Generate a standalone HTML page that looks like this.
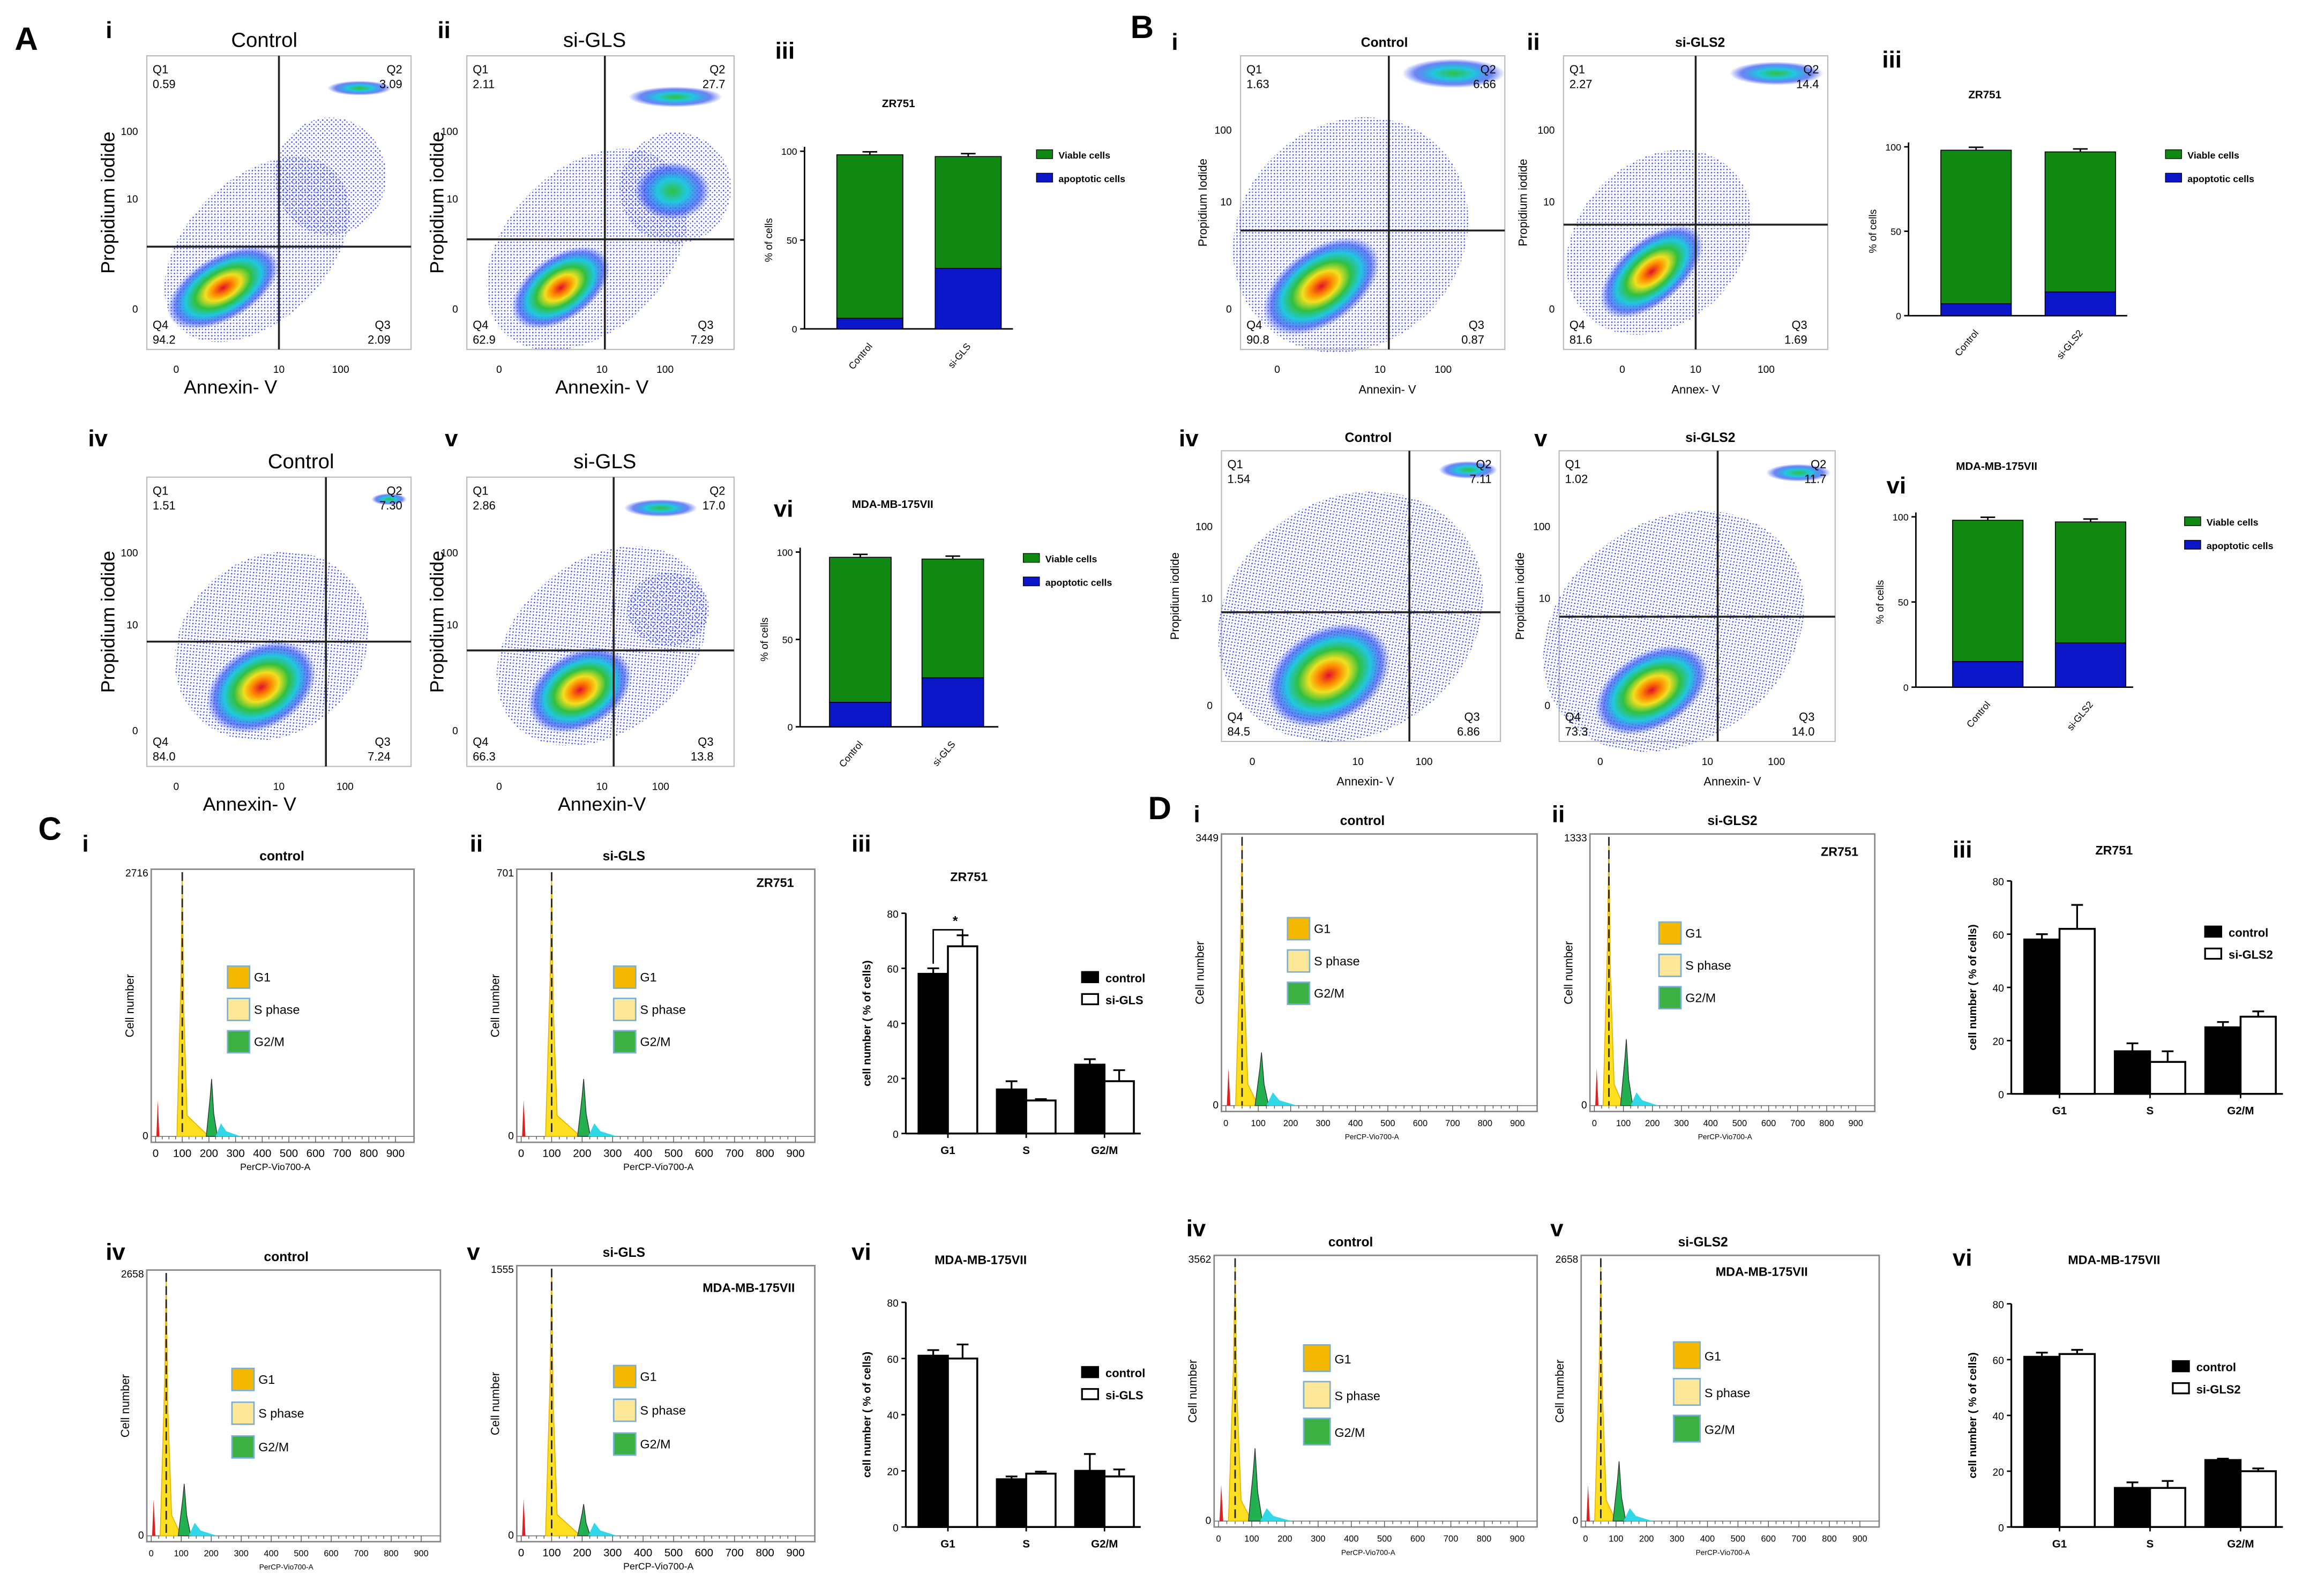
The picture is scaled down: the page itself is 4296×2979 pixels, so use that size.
<!DOCTYPE html>
<html><head><meta charset="utf-8"><style>
html,body{margin:0;padding:0;background:#fff;}
svg{display:block;font-family:"Liberation Sans",sans-serif;}
</style></head><body>
<svg id="fig" width="4296" height="2979" viewBox="0 0 1568 1087" preserveAspectRatio="none" xmlns="http://www.w3.org/2000/svg">
<defs>
<pattern id="dots" width="3" height="3" patternUnits="userSpaceOnUse"><circle cx="0.8" cy="0.8" r="0.5" fill="#2233ee"/><circle cx="2.3" cy="2.1" r="0.45" fill="#4455ff"/></pattern>
<radialGradient id="heat"><stop offset="0" stop-color="#e0102a"/><stop offset="0.18" stop-color="#ff8a00"/><stop offset="0.32" stop-color="#f0e020"/><stop offset="0.5" stop-color="#30c040"/><stop offset="0.68" stop-color="#20c8e0"/><stop offset="0.85" stop-color="#3050f0" stop-opacity="0.7"/><stop offset="1" stop-color="#3050f0" stop-opacity="0"/></radialGradient>
<radialGradient id="heat2"><stop offset="0" stop-color="#30c040"/><stop offset="0.4" stop-color="#20c8e0"/><stop offset="0.75" stop-color="#3050f0" stop-opacity="0.7"/><stop offset="1" stop-color="#3050f0" stop-opacity="0"/></radialGradient>
</defs>
</svg>
<script>
// ---------- data ----------
const stackCats = ["Control","si-GLS"];
const stackA3Apop = [6, 34];
const stackA3Total = [98, 97];
const stackA6Apop = [14, 28];
const stackA6Total = [97, 96];
const stackB3Apop = [7, 14];
const stackB3Total = [98, 97];
const stackB6Apop = [15, 26];
const stackB6Total = [98, 97];
const stackTicks = [0, 50, 100];
const phaseCats = ["G1","S","G2/M"];
const c3Control = [58, 16, 25];
const c3Si = [68, 12, 19];
const c3ControlErr = [2, 3, 2];
const c3SiErr = [4, 0.5, 4];
const c6Control = [61, 17, 20];
const c6Si = [60, 19, 18];
const c6ControlErr = [2, 1, 6];
const c6SiErr = [5, 0.7, 2.5];
const d3Control = [58, 16, 25];
const d3Si = [62, 12, 29];
const d3ControlErr = [2, 3, 2];
const d3SiErr = [9, 4, 2];
const d6Control = [61, 14, 24];
const d6Si = [62, 14, 20];
const d6ControlErr = [1.5, 2, 0.5];
const d6SiErr = [1.5, 2.5, 1];
const phaseTicks = [0, 20, 40, 60, 80];
const histTicks = [0,100,200,300,400,500,600,700,800,900];

const svg = document.getElementById('fig');
const NS = 'http://www.w3.org/2000/svg';
function mk(tag, attrs, name, parent, inter) {
  const el = document.createElementNS(NS, tag);
  for (const k in attrs) el.setAttribute(k, attrs[k]);
  
  
  (parent || svg).appendChild(el);
  return el;
}
function txt(x, y, s, size, name, opts) {
  opts = opts || {};
  const a = {x: x, y: y, 'font-size': size, fill: '#000', 'text-anchor': opts.anchor || 'middle'};
  if (opts.bold) a['font-weight'] = 'bold';
  if (opts.rot) a.transform = 'rotate(' + opts.rot + ' ' + x + ' ' + y + ')';
  const t = mk('text', a, name, opts.parent);
  t.textContent = s;
  return t;
}

// ---------- panel letters & numerals ----------
[["A",10,34],["B",770,26],["C",26,572],["D",782,558]].forEach(l => txt(l[1], l[2], l[0], 22, 'panel-letter-' + l[0].toLowerCase(), {bold: true, anchor: 'start'}));
[["i",72,26],["ii",298,26],["iii",528,40],["iv",60,304],["v",303,304],["vi",527,352],
 ["i",798,34],["ii",1040,34],["iii",1282,46],["iv",803,304],["v",1045,304],["vi",1285,336],
 ["i",56,580],["ii",320,580],["iii",580,580],["iv",72,858],["v",318,858],["vi",580,858],
 ["i",813,560],["ii",1057,560],["iii",1330,584],["iv",808,842],["v",1056,842],["vi",1330,862]
].forEach((r, i) => txt(r[1], r[2], r[0], 16, 'subpanel-numeral-' + r[0], {bold: true, anchor: 'start'}));

// ---------- scatter (Annexin/PI) plots ----------
function scatter(p) {
  const g = mk('g', {}, 'dotplot-' + p.id);
  mk('rect', {x: p.x, y: p.y, width: p.w, height: p.h, fill: '#fff', stroke: '#bbb', 'stroke-width': 0.8}, 'plot-frame', g);
  p.blobs.forEach(b => {
    const fill = b[5] === 'd' ? 'url(#dots)' : (b[5] === 'h' ? 'url(#heat)' : 'url(#heat2)');
    mk('ellipse', {cx: b[0], cy: b[1], rx: b[2], ry: b[3], transform: 'rotate(' + b[4] + ' ' + b[0] + ' ' + b[1] + ')', fill: fill, opacity: b[5] === 'd' ? 0.9 : 1}, 'cell-population', g);
  });
  mk('line', {x1: p.qx, y1: p.y, x2: p.qx, y2: p.y + p.h, stroke: '#222', 'stroke-width': 1.3}, 'quadrant-vertical-gate', g);
  mk('line', {x1: p.x, y1: p.qy, x2: p.x + p.w, y2: p.qy, stroke: '#222', 'stroke-width': 1.3}, 'quadrant-horizontal-gate', g);
  const fs = 8;
  txt(p.x + 4, p.y + 12, 'Q1', fs, 'q1-label', {anchor: 'start', parent: g});
  txt(p.x + 4, p.y + 22, p.q[0], fs, 'q1-value', {anchor: 'start', parent: g});
  txt(p.x + p.w - 6, p.y + 12, 'Q2', fs, 'q2-label', {anchor: 'end', parent: g});
  txt(p.x + p.w - 6, p.y + 22, p.q[1], fs, 'q2-value', {anchor: 'end', parent: g});
  txt(p.x + 4, p.y + p.h - 14, 'Q4', fs, 'q4-label', {anchor: 'start', parent: g});
  txt(p.x + 4, p.y + p.h - 4, p.q[2], fs, 'q4-value', {anchor: 'start', parent: g});
  txt(p.x + p.w - 14, p.y + p.h - 14, 'Q3', fs, 'q3-label', {anchor: 'end', parent: g});
  txt(p.x + p.w - 14, p.y + p.h - 4, p.q[3], fs, 'q3-value', {anchor: 'end', parent: g});
  txt(p.tx, p.y - 6, p.title, p.tsize, 'plot-title', {bold: p.tsize < 12, parent: g});
  p.yt.forEach((t, i) => txt(p.x - 6, t[1], t[0], 7, 'y-tick-label', {anchor: 'end', parent: g}));
  p.xt.forEach(t => txt(t[1], p.y + p.h + 16, t[0], 7, 'x-tick-label', {parent: g}));
  txt(p.ylx, p.y + p.h / 2, p.ylab, p.lsize, 'y-axis-title', {rot: -90, parent: g});
  txt(p.xlx, p.y + p.h + 30, p.xlab, p.lsize, 'x-axis-title', {parent: g});
}
const big = 14, sm = 9;
scatter({id:'a-i', x:100, y:38, w:180, h:200, qx:190, qy:168, q:['0.59','3.09','94.2','2.09'], title:'Control', tx:180, tsize:big,
  yt:[['100',92],['10',138],['0',213]], xt:[['0',120],['10',190],['100',232]], ylx:78, ylab:'Propidium iodide', xlx:157, xlab:'Annexin- V', lsize:13,
  blobs:[[175,170,75,48,-45,'d'],[225,120,38,40,0,'d'],[152,196,42,22,-30,'h'],[245,60,22,5,0,'g']]});
scatter({id:'a-ii', x:318, y:38, w:182, h:200, qx:412, qy:163, q:['2.11','27.7','62.9','7.29'], title:'si-GLS', tx:405, tsize:big,
  yt:[['100',92],['10',138],['0',213]], xt:[['0',340],['10',410],['100',453]], ylx:302, ylab:'Propidium iodide', xlx:410, xlab:'Annexin- V', lsize:13,
  blobs:[[400,170,80,55,-45,'d'],[460,128,38,38,0,'d'],[458,130,26,20,0,'g'],[382,196,38,22,-35,'h'],[460,66,32,7,0,'g']]});
scatter({id:'a-iv', x:100, y:325, w:180, h:197, qx:222, qy:437, q:['1.51','7.30','84.0','7.24'], title:'Control', tx:205, tsize:big,
  yt:[['100',379],['10',428],['0',500]], xt:[['0',120],['10',190],['100',235]], ylx:78, ylab:'Propidium iodide', xlx:170, xlab:'Annexin- V', lsize:13,
  blobs:[[185,440,70,60,-40,'d'],[178,468,40,28,-30,'h'],[265,340,12,4,0,'g']]});
scatter({id:'a-v', x:318, y:325, w:182, h:197, qx:418, qy:443, q:['2.86','17.0','66.3','13.8'], title:'si-GLS', tx:412, tsize:big,
  yt:[['100',379],['10',428],['0',500]], xt:[['0',340],['10',410],['100',450]], ylx:302, ylab:'Propidium iodide', xlx:410, xlab:'Annexin-V', lsize:13,
  blobs:[[410,440,80,58,-40,'d'],[455,415,28,25,0,'d'],[395,470,38,26,-30,'h'],[450,346,25,6,0,'g']]});
scatter({id:'b-i', x:845, y:38, w:180, h:200, qx:946, qy:157, q:['1.63','6.66','90.8','0.87'], title:'Control', tx:943, tsize:sm,
  yt:[['100',91],['10',140],['0',213]], xt:[['0',870],['10',940],['100',983]], ylx:822, ylab:'Propidium Iodide', xlx:945, xlab:'Annexin- V', lsize:8,
  blobs:[[920,160,85,75,-45,'d'],[900,195,45,26,-35,'h'],[990,50,35,10,0,'g']]});
scatter({id:'b-ii', x:1065, y:38, w:180, h:200, qx:1155, qy:153, q:['2.27','14.4','81.6','1.69'], title:'si-GLS2', tx:1158, tsize:sm,
  yt:[['100',91],['10',140],['0',213]], xt:[['0',1105],['10',1155],['100',1203]], ylx:1040, ylab:'Propidium iodide', xlx:1155, xlab:'Annex- V', lsize:8,
  blobs:[[1130,165,70,55,-45,'d'],[1125,185,42,22,-40,'h'],[1210,50,32,8,0,'g']]});
scatter({id:'b-iv', x:832, y:307, w:190, h:198, qx:960, qy:417, q:['1.54','7.11','84.5','6.86'], title:'Control', tx:932, tsize:sm,
  yt:[['100',361],['10',410],['0',483]], xt:[['0',853],['10',925],['100',970]], ylx:803, ylab:'Propidium iodide', xlx:930, xlab:'Annexin- V', lsize:8,
  blobs:[[920,420,95,80,-35,'d'],[905,460,45,32,-30,'h'],[1000,320,20,6,0,'g']]});
scatter({id:'b-v', x:1062, y:307, w:188, h:198, qx:1170, qy:420, q:['1.02','11.7','73.3','14.0'], title:'si-GLS2', tx:1165, tsize:sm,
  yt:[['100',361],['10',410],['0',483]], xt:[['0',1090],['10',1163],['100',1210]], ylx:1038, ylab:'Propidium iodide', xlx:1180, xlab:'Annexin- V', lsize:8,
  blobs:[[1140,430,95,75,-35,'d'],[1125,470,42,26,-30,'h'],[1225,322,22,6,0,'g']]});

// ---------- stacked bar charts ----------
function stacked(p) {
  const g = mk('g', {}, 'stacked-bar-chart-' + p.id);
  const ys = v => p.y0 - (v / 100) * (p.y0 - p.y100);
  mk('line', {x1: p.ax, y1: p.y100 - 3, x2: p.ax, y2: p.y0, stroke: '#000', 'stroke-width': 1}, 'y-axis', g);
  mk('line', {x1: p.ax, y1: p.y0, x2: p.ax + p.bw * 2 + p.gap + 30, y2: p.y0, stroke: '#000', 'stroke-width': 1}, 'x-axis', g);
  stackTicks.forEach(t => {
    mk('line', {x1: p.ax - 3, y1: ys(t), x2: p.ax, y2: ys(t), stroke: '#000'}, 'y-tick', g);
    txt(p.ax - 5, ys(t) + 2.5, String(t), 6.5, 'y-tick-label', {anchor: 'end', parent: g});
  });
  txt(p.ax - 22, (p.y0 + p.y100) / 2, '% of cells', 7, 'y-axis-title', {rot: -90, parent: g});
  txt(p.tx, p.ty, p.title, 7.5, 'chart-title', {bold: true, parent: g});
  p.apop.forEach((a, i) => {
    const x = p.bx + i * (p.bw + p.gap);
    mk('rect', {x: x, y: ys(p.total[i]), width: p.bw, height: ys(a) - ys(p.total[i]), fill: '#118811', stroke: '#000', 'stroke-width': 0.6}, 'bar-viable-' + i, g);
    mk('rect', {x: x, y: ys(a), width: p.bw, height: ys(0) - ys(a), fill: '#0a16c8', stroke: '#000', 'stroke-width': 0.6}, 'bar-apoptotic-' + i, g);
    mk('path', {d: 'M' + (x + p.bw / 2) + ' ' + ys(p.total[i]) + 'V' + (ys(p.total[i]) - 2) + 'M' + (x + p.bw / 2 - 5) + ' ' + (ys(p.total[i]) - 2) + 'h10', stroke: '#000', fill: 'none'}, 'error-bar', g);
    txt(x + p.bw / 2 + 2, p.y0 + 12, p.cats[i], 6.5, 'x-tick-label', {anchor: 'end', rot: -50, parent: g});
  });
  [['Viable cells', '#118811'], ['apoptotic cells', '#0a16c8']].forEach((l, i) => {
    mk('rect', {x: p.lx, y: p.ly + i * 16 - 5, width: 11, height: 6, fill: l[1], stroke: '#000', 'stroke-width': 0.5}, 'legend-swatch', g);
    txt(p.lx + 15, p.ly + i * 16 + 1, l[0], 6.5, 'legend-entry', {anchor: 'start', bold: true, parent: g});
  });
}
stacked({id:'a-iii', ax:548, y0:224, y100:103, bx:570, bw:45, gap:22, apop:stackA3Apop, total:stackA3Total, cats:stackCats, title:'ZR751', tx:612, ty:73, lx:706, ly:107});
stacked({id:'a-vi', ax:545, y0:495, y100:376, bx:565, bw:42, gap:21, apop:stackA6Apop, total:stackA6Total, cats:stackCats, title:'MDA-MB-175VII', tx:608, ty:346, lx:697, ly:382});
stacked({id:'b-iii', ax:1300, y0:215, y100:100, bx:1322, bw:48, gap:23, apop:stackB3Apop, total:stackB3Total, cats:['Control','si-GLS2'], title:'ZR751', tx:1352, ty:67, lx:1475, ly:107});
stacked({id:'b-vi', ax:1305, y0:468, y100:352, bx:1330, bw:48, gap:22, apop:stackB6Apop, total:stackB6Total, cats:['Control','si-GLS2'], title:'MDA-MB-175VII', tx:1360, ty:320, lx:1488, ly:357});

// ---------- grouped bar charts ----------
function grouped(p) {
  const g = mk('g', {}, 'grouped-bar-chart-' + p.id);
  const ys = v => p.y0 - (v / 80) * (p.y0 - p.y80);
  mk('line', {x1: p.ax, y1: p.y80, x2: p.ax, y2: p.y0, stroke: '#000', 'stroke-width': 1.2}, 'y-axis', g);
  mk('line', {x1: p.ax, y1: p.y0, x2: p.ax + p.xw, y2: p.y0, stroke: '#000', 'stroke-width': 1.2}, 'x-axis', g);
  phaseTicks.forEach(t => {
    mk('line', {x1: p.ax - 3, y1: ys(t), x2: p.ax, y2: ys(t), stroke: '#000'}, 'y-tick', g);
    txt(p.ax - 5, ys(t) + 3, String(t), 7, 'y-tick-label', {anchor: 'end', parent: g});
  });
  txt(p.ax - 24, (p.y0 + p.y80) / 2, 'cell number ( % of cells)', 7.5, 'y-axis-title', {rot: -90, bold: true, parent: g});
  txt(p.tx, p.ty, p.title, 8.5, 'chart-title', {bold: true, parent: g});
  const gw = p.xw / 3;
  phaseCats.forEach((c, i) => {
    const cx = p.ax + gw * i + gw / 2 + 2;
    [[p.c, p.ce, '#000', -1], [p.s, p.se, '#fff', 0]].forEach((sr, j) => {
      const x = cx + sr[3] * p.bw;
      const v = sr[0][i], e = sr[1][i];
      mk('path', {d: 'M' + (x + p.bw / 2) + ' ' + ys(v) + 'V' + ys(v + e) + 'M' + (x + p.bw / 2 - 4) + ' ' + ys(v + e) + 'h8', stroke: '#000', 'stroke-width': 1.2, fill: 'none'}, 'error-bar', g);
      mk('rect', {x: x, y: ys(v), width: p.bw, height: ys(0) - ys(v), fill: sr[2], stroke: '#000', 'stroke-width': 1.3}, (j ? 'bar-treated-' : 'bar-control-') + c, g);
    });
    mk('line', {x1: cx, y1: p.y0, x2: cx, y2: p.y0 + 3, stroke: '#000'}, 'x-tick', g);
    txt(cx, p.y0 + 14, c, 7.5, 'x-tick-label', {bold: true, parent: g});
  });
  [['control', '#000'], [p.sname, '#fff']].forEach((l, i) => {
    mk('rect', {x: p.lx, y: p.ly + i * 15 - 6, width: 11, height: 7, fill: l[1], stroke: '#000', 'stroke-width': 1.2}, 'legend-swatch', g);
    txt(p.lx + 16, p.ly + i * 15 + 1, l[0], 8, 'legend-entry', {anchor: 'start', bold: true, parent: g});
  });
  if (p.star) {
    const cx = p.ax + gw / 2 + 2;
    mk('path', {d: 'M' + (cx - p.bw / 2) + ' ' + (ys(59) - 5) + 'V' + (ys(74)) + 'H' + (cx + p.bw / 2) + 'V' + (ys(72)), stroke: '#000', fill: 'none'}, 'significance-bracket', g);
    txt(cx + 5, ys(75) - 1, '*', 9, 'significance-star', {bold: true, parent: g});
  }
}
grouped({id:'c-iii', ax:617, y0:772, y80:622, xw:160, bw:20, c:c3Control, s:c3Si, ce:c3ControlErr, se:c3SiErr, title:'ZR751', tx:660, ty:600, lx:737, ly:668, sname:'si-GLS', star:true});
grouped({id:'c-vi', ax:617, y0:1040, y80:887, xw:160, bw:20, c:c6Control, s:c6Si, ce:c6ControlErr, se:c6SiErr, title:'MDA-MB-175VII', tx:668, ty:861, lx:737, ly:937, sname:'si-GLS'});
grouped({id:'d-iii', ax:1370, y0:745, y80:600, xw:185, bw:24, c:d3Control, s:d3Si, ce:d3ControlErr, se:d3SiErr, title:'ZR751', tx:1440, ty:582, lx:1502, ly:637, sname:'si-GLS2'});
grouped({id:'d-vi', ax:1370, y0:1040, y80:888, xw:185, bw:24, c:d6Control, s:d6Si, ce:d6ControlErr, se:d6SiErr, title:'MDA-MB-175VII', tx:1440, ty:861, lx:1480, ly:933, sname:'si-GLS2'});

// ---------- cell-cycle histograms ----------
function hist(p) {
  const g = mk('g', {}, 'histogram-' + p.id);
  mk('rect', {x: p.x, y: p.y, width: p.w, height: p.h, fill: '#fff', stroke: '#888', 'stroke-width': 1}, 'plot-frame', g);
  const base = p.y + p.h - 4;
  const xs = v => p.x + 3 + v * (p.w - 12) / 920;
  const ys = f => base - f * (p.h - 8);
  mk('line', {x1: p.x, y1: base, x2: p.x + p.w, y2: base, stroke: '#777', 'stroke-width': 0.6}, 'x-axis', g);
  for (let v = 0; v <= 900; v += 25) mk('line', {x1: xs(v), y1: base, x2: xs(v), y2: base + (v % 100 ? 2 : 4), stroke: '#555', 'stroke-width': 0.5}, 'x-tick', g);
  histTicks.forEach(t => txt(xs(t), base + 14, String(t), p.fs, 'x-tick-label', {parent: g}));
  txt(p.x + p.w / 2 - 5, base + 23, 'PerCP-Vio700-A', p.fs - 1, 'x-axis-title', {parent: g});
  txt(p.x - 2, p.y + 5, p.ymax, 7, 'y-max-label', {anchor: 'end', parent: g});
  txt(p.x - 2, base + 2, '0', 7, 'y-min-label', {anchor: 'end', parent: g});
  txt(p.x - 12, p.y + p.h / 2, 'Cell number', 8, 'y-axis-title', {rot: -90, parent: g});
  const g1 = p.g1, g2 = p.g2;
  mk('path', {d: 'M' + xs(3) + ' ' + base + 'L' + xs(8) + ' ' + ys(0.14) + 'L' + xs(14) + ' ' + base + 'Z', fill: '#e02020'}, 'debris-peak', g);
  mk('path', {d: 'M' + xs(g1 - 20) + ' ' + base + 'L' + xs(g1 - 5) + ' ' + ys(0.6) + 'L' + xs(g1) + ' ' + ys(1) + 'L' + xs(g1 + 5) + ' ' + ys(0.5) + 'L' + xs(g1 + 18) + ' ' + ys(0.08) + 'L' + xs(g2 - 10) + ' ' + base + 'Z', fill: '#ffe020', stroke: '#e8b000', 'stroke-width': 0.6}, 'g1-peak', g);
  mk('line', {x1: xs(g1), y1: ys(1) - 2, x2: xs(g1), y2: base, stroke: '#222', 'stroke-width': 1, 'stroke-dasharray': '6 3'}, 'g1-peak-marker', g);
  mk('path', {d: 'M' + xs(g2 - 20) + ' ' + base + 'L' + xs(g2 - 5) + ' ' + ys(p.g2h * 0.7) + 'L' + xs(g2) + ' ' + ys(p.g2h) + 'L' + xs(g2 + 8) + ' ' + ys(p.g2h * 0.4) + 'L' + xs(g2 + 22) + ' ' + base + 'Z', fill: '#22b050', stroke: '#333', 'stroke-width': 0.5}, 'g2m-peak', g);
  mk('path', {d: 'M' + xs(g2 + 15) + ' ' + base + 'L' + xs(g2 + 35) + ' ' + ys(0.05) + 'L' + xs(g2 + 55) + ' ' + ys(0.02) + 'L' + xs(g2 + 110) + ' ' + base + 'Z', fill: '#30d8e8'}, 'aggregate-peak', g);
  [['G1', '#f5b800'], ['S phase', '#ffe79a'], ['G2/M', '#3cb043']].forEach((l, i) => {
    mk('rect', {x: p.lx, y: p.ly + i * p.lg, width: p.ls, height: p.ls, fill: l[1], stroke: '#7ab0d8', 'stroke-width': 1}, 'legend-swatch', g);
    txt(p.lx + p.ls + 3, p.ly + i * p.lg + p.ls * 0.7, l[0], 8.5, 'legend-entry', {anchor: 'start', parent: g});
  });
  txt(p.tx, p.y - 6, p.title, 9, 'plot-title', {bold: true, parent: g});
  if (p.cell) txt(p.cx, p.cy, p.cell, 8.5, 'cell-line-label', {bold: true, parent: g});
}
hist({id:'c-i', x:103, y:592, w:179, h:186, g1:100, g2:210, g2h:0.22, ymax:'2716', title:'control', tx:192, lx:155, ly:658, ls:15, lg:22, fs:7.5});
hist({id:'c-ii', x:352, y:592, w:203, h:186, g1:100, g2:205, g2h:0.22, ymax:'701', title:'si-GLS', tx:425, cell:'ZR751', cx:528, cy:604, lx:418, ly:658, ls:15, lg:22, fs:7.5});
hist({id:'c-iv', x:100, y:865, w:200, h:185, g1:50, g2:110, g2h:0.2, ymax:'2658', title:'control', tx:195, lx:158, ly:932, ls:15, lg:23, fs:6});
hist({id:'c-v', x:352, y:862, w:203, h:188, g1:100, g2:205, g2h:0.12, ymax:'1555', title:'si-GLS', tx:425, cell:'MDA-MB-175VII', cx:510, cy:880, lx:418, ly:930, ls:15, lg:23, fs:7.5});
hist({id:'d-i', x:832, y:568, w:215, h:189, g1:50, g2:110, g2h:0.2, ymax:'3449', title:'control', tx:928, lx:877, ly:625, ls:15, lg:22, fs:6});
hist({id:'d-ii', x:1083, y:568, w:194, h:189, g1:50, g2:110, g2h:0.25, ymax:'1333', title:'si-GLS2', tx:1180, cell:'ZR751', cx:1253, cy:583, lx:1130, ly:628, ls:15, lg:22, fs:6});
hist({id:'d-iv', x:827, y:855, w:220, h:185, g1:50, g2:110, g2h:0.28, ymax:'3562', title:'control', tx:920, lx:888, ly:916, ls:18, lg:25, fs:6});
hist({id:'d-v', x:1077, y:855, w:203, h:185, g1:50, g2:110, g2h:0.23, ymax:'2658', title:'si-GLS2', tx:1160, cell:'MDA-MB-175VII', cx:1200, cy:869, lx:1140, ly:914, ls:18, lg:25, fs:6});
</script>
</body></html>
